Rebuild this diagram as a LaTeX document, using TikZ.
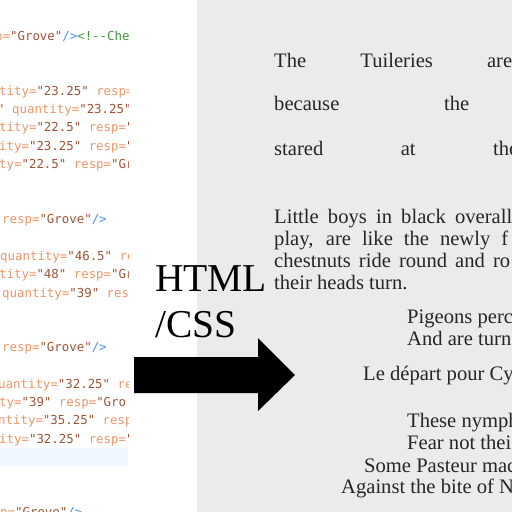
\documentclass[tikz,border=0pt]{standalone}
\usepackage{fontspec}
\setmainfont{Liberation Serif}
\setmonofont{DejaVu Sans Mono}
\usepackage{tikz}
\usetikzlibrary{positioning}
\usepackage{xcolor}
\definecolor{attrorange}{RGB}{234,150,104}
\definecolor{valbrown}{RGB}{156,84,54}
\definecolor{tagblue}{RGB}{74,143,231}
\definecolor{comgreen}{RGB}{58,150,58}
\definecolor{pagegrey}{RGB}{235,235,235}
\definecolor{rowblue}{RGB}{239,246,254}
\definecolor{inkgrey}{RGB}{38,38,38}
\newcommand{\xAttr}[1]{\textcolor{attrorange}{#1}}
\newcommand{\xVal}[1]{\textcolor{valbrown}{#1}}
\newcommand{\xTag}[1]{\textcolor{tagblue}{#1}}
\newcommand{\xCom}[1]{\textcolor{comgreen}{#1}}

\begin{document}
\begin{tikzpicture}[x=1pt,y=-1pt,
  codeline/.style={anchor=base west,inner sep=0,font=\ttfamily\fontsize{12.4}{13}\selectfont},
  pageline/.style={anchor=base west,inner sep=0,text=inkgrey,font=\fontsize{20.6}{22}\selectfont},
  bigword/.style={anchor=base west,inner sep=0,font=\fontsize{39.5}{40}\selectfont}]
\useasboundingbox (0,0) rectangle (512,512);
% Rendered page
\fill[pagegrey] (197,0) rectangle (512,512);
% Source listing
\begin{scope}
\clip (0,0) rectangle (128,512);
\fill[rowblue] (0,448) rectangle (128,466);
\node[codeline] (c00) at (-5,40) {\xAttr{p=}\xVal{"Grove"}\xTag{/>}\xCom{<!--Che}};
\node[codeline] (c03) at (-1,95) {\xAttr{tity=}\xVal{"23.25"} \xAttr{resp=}};
\node[codeline] (c04) at (-3,113) {\xVal{"} \xAttr{quantity=}\xVal{"23.25"}};
\node[codeline] (c05) at (-1,131) {\xAttr{tity=}\xVal{"22.5"} \xAttr{resp=}\xVal{"}};
\node[codeline] (c06) at (-1,150) {\xAttr{ity=}\xVal{"23.25"} \xAttr{resp=}\xVal{"}};
\node[codeline] (c07) at (-1,168) {\xAttr{ty=}\xVal{"22.5"} \xAttr{resp=}\xVal{"Gr}};
\node[codeline] (c10) at (2,223) {\xAttr{resp=}\xVal{"Grove"}\xTag{/>}};
\node[codeline] (c12) at (0,260) {\xAttr{quantity=}\xVal{"46.5"} \xAttr{re}};
\node[codeline] (c13) at (-1,278) {\xAttr{tity=}\xVal{"48"} \xAttr{resp=}\xVal{"Gr}};
\node[codeline] (c14) at (2,297) {\xAttr{quantity=}\xVal{"39"} \xAttr{res}};
\node[codeline] (c17) at (2,351) {\xAttr{resp=}\xVal{"Grove"}\xTag{/>}};
\node[codeline] (c19) at (-2,388) {\xAttr{uantity=}\xVal{"32.25"} \xAttr{re}};
\node[codeline] (c20) at (-1,406) {\xAttr{ty=}\xVal{"39"} \xAttr{resp=}\xVal{"Gro}};
\node[codeline] (c21) at (-2,424) {\xAttr{ntity=}\xVal{"35.25"} \xAttr{resp}};
\node[codeline] (c22) at (-1,443) {\xAttr{ity=}\xVal{"32.25"} \xAttr{resp=}\xVal{"}};
\node[codeline] (c26) at (0,516) {\xAttr{p=}\xVal{"Grove"}\xTag{/>}};
\end{scope}
% Page text
\begin{scope}
\clip (197,0) rectangle (512,512);
\node[pageline] (w1) at (274,67) {\makebox[238pt][s]{The Tuileries are}};
\node[pageline] (w2) at (274,110) {\makebox[195pt][s]{because the}};
\node[pageline] (w3) at (274,155) {\makebox[244pt][s]{stared at the}};
\node[pageline] (p1) at (274,223) {\makebox[238pt][s]{Little boys in black overall}};
\node[pageline] (p2) at (274,245) {\makebox[234pt][s]{play, are like the newly f}};
\node[pageline] (p3) at (274,267) {\makebox[236pt][s]{chestnuts ride round and ro}};
\node[pageline] (p4) at (274,289) {their heads turn.};
\node[pageline] (v1) at (407,323) {Pigeons perc};
\node[pageline] (v2) at (407,345) {And are turn};
\node[pageline] (v3) at (363,380) {Le départ pour Cy};
\node[pageline] (v4) at (407,427) {These nymph};
\node[pageline] (v5) at (407,449) {Fear not thei};
\node[pageline] (v6) at (364,472) {Some Pasteur mac};
\node[pageline] (v7) at (341,493) {Against the bite of N};
\end{scope}
% Conversion label and arrow
\node[bigword] (html) at (155,291) {HTML};
\node[bigword] (css) at (155,337) {/CSS};
\fill[black] (134,357) -- (258,357) -- (258,338) -- (295,375) -- (258,411)
  -- (258,393) -- (134,393) -- cycle;
\end{tikzpicture}
\end{document}
